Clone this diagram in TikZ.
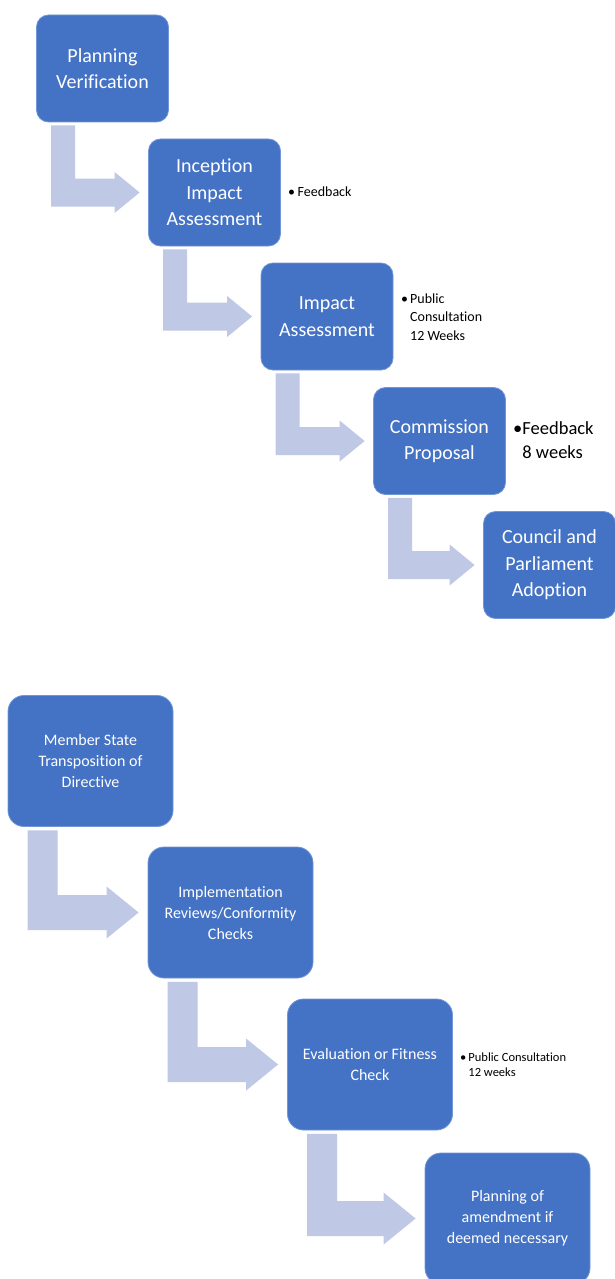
\documentclass[tikz,border=0pt]{standalone}
\usepackage{fontspec}
\setmainfont[Ligatures={NoCommon}]{Carlito}
\usetikzlibrary{calc}
\definecolor{boxblue}{HTML}{4472C4}
\definecolor{boxedge}{HTML}{7096D6}
\definecolor{arrowfill}{HTML}{BFC8E4}
% #1 from, #2 to, #3 x offset, #4 vertical bar width, #5 horizontal bar half, #6 head half, #7 head length, #8 tip gap, #9 top gap
\newcommand{\bentarrow}[9]{%
  \fill[arrowfill] let \p1=(#1.south west), \p2=(#2.west) in
  ({\x1+#3pt},{\y1-#9pt}) -- ({\x1+#3pt+#4pt},{\y1-#9pt}) --
  ({\x1+#3pt+#4pt},{\y2+#5pt}) -- ({\x2-#8pt-#7pt},{\y2+#5pt}) --
  ({\x2-#8pt-#7pt},{\y2+#6pt}) -- ({\x2-#8pt},{\y2}) --
  ({\x2-#8pt-#7pt},{\y2-#6pt}) -- ({\x2-#8pt-#7pt},{\y2-#5pt}) --
  ({\x1+#3pt},{\y2-#5pt}) -- cycle;}
\begin{document}
\begin{tikzpicture}[x=1pt,y=1pt,
  topbox/.style={rectangle, rounded corners=12pt, fill=boxblue, draw=boxedge, line width=0.8pt,
    minimum width=132pt, minimum height=107pt, inner sep=0pt, align=center, text=white,
    font=\fontsize{20}{26.5}\selectfont},
  lowbox/.style={rectangle, rounded corners=16pt, fill=boxblue, draw=boxedge, line width=0.8pt,
    minimum width=165pt, minimum height=131pt, inner sep=0pt, align=center, text=white,
    font=\fontsize{16}{21}\selectfont},
  note/.style={anchor=base west, inner sep=0pt, text=black}]
\useasboundingbox (0,0) rectangle (615,-1279);
\clip (0,0) rectangle (615,-1279);

% top section
\node[topbox] (pv) at (102.5,-68.5) {Planning\\Verification};
\node[topbox] (iia) at (214.5,-192.5) {Inception\\Impact\\Assessment};
\node[topbox] (ia) at (327,-316.5) {Impact\\Assessment};
\node[topbox] (cp) at (439.5,-441) {Commission\\Proposal};
\node[topbox] (cpa) at (549.5,-565) {Council and\\Parliament\\Adoption};

\bentarrow{pv}{iia}{15}{24}{14}{20.5}{25}{8.5}{3}
\bentarrow{iia}{ia}{15}{24}{14}{20.5}{25}{8.5}{3}
\bentarrow{ia}{cp}{15}{24}{14}{20.5}{25}{8.5}{3}
\bentarrow{cp}{cpa}{15}{24}{14}{20.5}{25}{8.5}{3}

\node[note, font=\fontsize{14}{18.5}\selectfont] (n1) at (288,-196)
  {\begin{tabular}[t]{@{}l@{\hspace{2.5pt}}l@{}}\textbullet & Feedback\end{tabular}};
\node[note, font=\fontsize{14}{18.5}\selectfont] (n2) at (401,-303)
  {\begin{tabular}[t]{@{}l@{\hspace{2pt}}l@{}}\textbullet & Public\\ & Consultation\\ & 12 Weeks\end{tabular}};
\node[note, font=\fontsize{18.5}{24}\selectfont] (n3) at (513,-434.5)
  {\begin{tabular}[t]{@{}l@{\hspace{0pt}}l@{}}\textbullet & Feedback\\ & 8 weeks\end{tabular}};

% bottom section
\node[lowbox] (ms) at (90.5,-761) {Member State\\Transposition of\\Directive};
\node[lowbox] (ir) at (230.5,-912.5) {Implementation\\Reviews/Conformity\\Checks};
\node[lowbox] (ef) at (370,-1064.5) {Evaluation or Fitness\\Check};
\node[lowbox] (pa) at (507.5,-1218.5) {Planning of\\amendment if\\deemed necessary};

\bentarrow{ms}{ir}{20}{30}{17.5}{26}{32}{9}{3.5}
\bentarrow{ir}{ef}{20}{30}{17.5}{26}{32}{9}{3.5}
\bentarrow{ef}{pa}{20}{30}{17.5}{26}{32}{9}{3.5}

\node[note, font=\fontsize{12.5}{15.5}\selectfont] (n4) at (460,-1061)
  {\begin{tabular}[t]{@{}l@{\hspace{2pt}}l@{}}\textbullet & Public Consultation\\ & 12 weeks\end{tabular}};
\end{tikzpicture}
\end{document}
